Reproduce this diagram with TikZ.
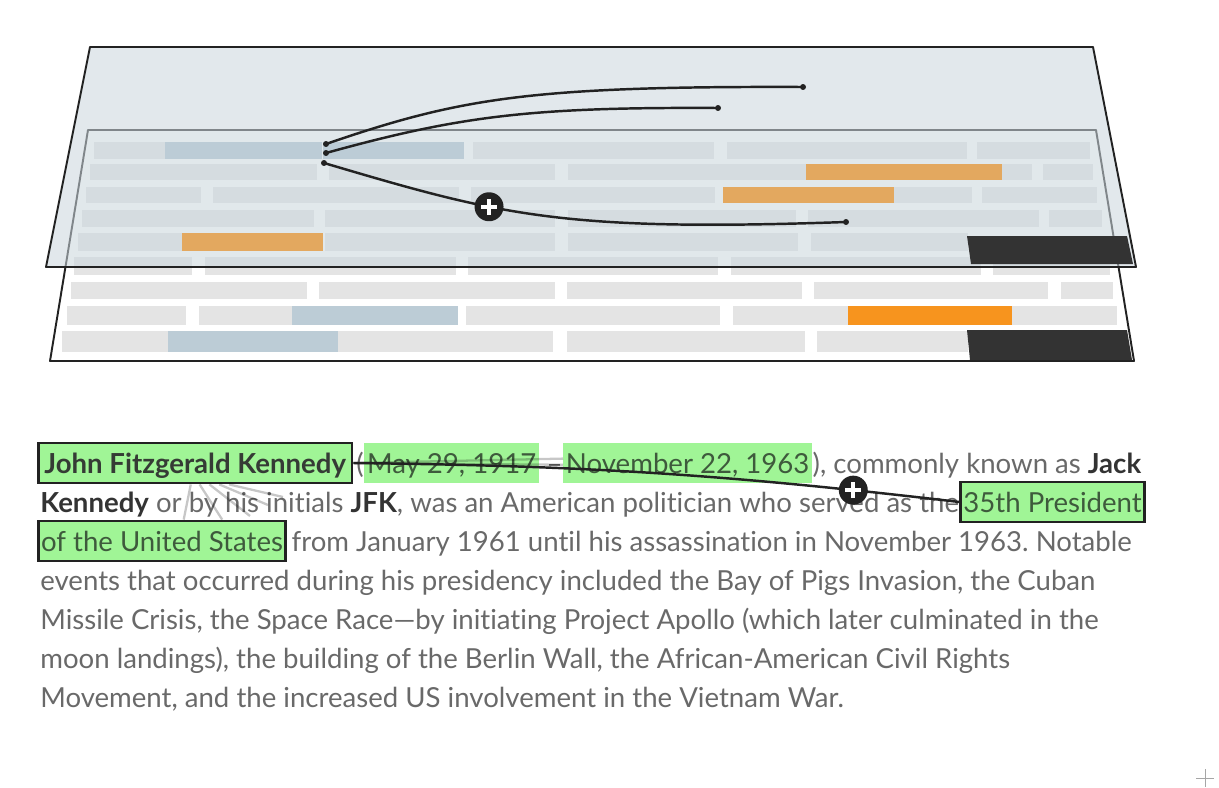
\documentclass[tikz,border=0pt]{standalone}
\usepackage{fontspec}
\setmainfont[Ligatures=NoCommon]{Lato}
\usetikzlibrary{calc}
\definecolor{planeblue}{RGB}{203,214,221}
\definecolor{bargray}{RGB}{228,228,228}
\definecolor{barblue}{RGB}{188,204,214}
\definecolor{barorange}{RGB}{247,148,30}
\definecolor{dimorange}{RGB}{227,168,95}
\definecolor{bardark}{RGB}{51,51,51}
\definecolor{linedark}{RGB}{34,34,34}
\definecolor{hlgreen}{RGB}{160,245,150}
\definecolor{hltext}{RGB}{62,90,60}
\definecolor{txtgray}{RGB}{105,105,105}
\definecolor{bolddark}{RGB}{51,51,51}
\newcommand\bodyfont{\fontsize{15.7pt}{19pt}\selectfont\frenchspacing}
\newcommand\barrow[3]{\foreach \xa/\xb in {#3}{\fill[bargray] (\xa,#1) rectangle (\xb,#2);}}
\newcommand\bld[1]{\textbf{\textcolor{bolddark}{#1}}}

\begin{document}
\begin{tikzpicture}[x=0.02cm,y=-0.02cm]
\tikzset{
  PlaneStyle/.style={draw=linedark, line width=1.1pt, line join=round},
  LinkStyle/.style={draw=linedark, line width=1.4pt},
  PlusStyle/.style={circle, fill=linedark, minimum size=0.58cm, inner sep=0,
    path picture={\draw[white, line width=2.3pt]
      ([xshift=-0.16cm]path picture bounding box.center) -- ([xshift=0.16cm]path picture bounding box.center)
      ([yshift=-0.16cm]path picture bounding box.center) -- ([yshift=0.16cm]path picture bounding box.center);}},
  TextStyle/.style={inner sep=0, anchor=base west, text=txtgray, font=\bodyfont},
  MarkStyle/.style={TextStyle, fill=hlgreen, text=hltext, text height=0.56cm, text depth=0.16cm, inner ysep=0.04cm, inner xsep=1.5pt},
  BoxStyle/.style={MarkStyle, draw=linedark, line width=1.6pt},
  GhostStyle/.style={draw=black, opacity=0.22, line width=1.3pt},
}
\useasboundingbox (0,0) rectangle (1219,787);

\filldraw[PlaneStyle, fill=white] (88,130) -- (1096,130) -- (1134,361) -- (50,361) -- cycle;
\barrow{142}{159}{94/165, 165/322, 323/464, 473/714, 727/967, 977/1090}
\barrow{164}{180}{90/317, 329/555, 568/1032, 1043/1093}
\barrow{187}{203}{86/201, 213/459, 471/715, 723/972, 982/1097}
\barrow{210}{227}{82/314, 325/555, 568/796, 808/1039, 1049/1102}
\barrow{233}{251}{78/323, 325/555, 568/798, 811/968}
\barrow{257}{275}{74/192, 205/456, 468/718, 731/981, 993/1110}
\barrow{282}{299}{71/307, 319/555, 567/802, 814/1048, 1061/1113}
\barrow{306}{325}{67/186, 199/458, 466/720, 733/1117}
\barrow{331}{352}{62/553, 567/805, 817/968}
\fill[barblue] (292,306) rectangle (458,325);
\fill[barorange] (848,306) rectangle (1012,325);
\fill[barblue] (168,331) rectangle (338,352);
\fill[bardark] (967,330) -- (1127,330) -- (1132,360) -- (970,360) -- cycle;

\filldraw[PlaneStyle, fill=planeblue, fill opacity=0.56] (90,47) -- (1093,47) -- (1136,267) -- (46,267) -- cycle;
\fill[barblue] (165,142) rectangle (322,159);
\fill[barblue] (323,142) rectangle (464,159);
\fill[dimorange] (806,164) rectangle (1002,180);
\fill[dimorange] (723,187) rectangle (894,203);
\fill[dimorange] (182,233) rectangle (323,251);
\fill[bardark] (967,236) -- (1127,236) -- (1133,264) -- (971,264) -- cycle;

\coordinate (s1) at (326,144);
\coordinate (s2) at (326,153);
\coordinate (s3) at (324,163);
\coordinate (e1) at (803,87);
\coordinate (e2) at (718,108);
\coordinate (e3) at (846,222);
\draw[LinkStyle] (s1) .. controls (460,98) and (530,86) .. (e1);
\draw[LinkStyle] (s2) .. controls (460,116) and (530,107) .. (e2);
\draw[LinkStyle] (s3) .. controls (500,215) and (560,232) .. node[PlusStyle, pos=0.37] (plusa) {} (e3);
\foreach \p in {s1,s2,s3,e1,e2,e3}
  \fill[linedark] (\p) circle[radius=1.7pt];

\node[BoxStyle, inner xsep=3.4pt] (jfk) at (37,473) {\bfseries\color{bolddark!80!hltext}John Fitzgerald Kennedy};
\node[TextStyle] (open) at (jfk.base east) {\kern1.5pt(};
\node[MarkStyle] (born) at (open.base east) {May 29, 1917};
\node[TextStyle] (dash) at (born.base east) {\ –\ };
\node[MarkStyle] (died) at (dash.base east) {November 22, 1963};
\node[TextStyle] (rest1) at (died.base east) {), commonly known as \bld{Jack}};
\node[TextStyle] (rest2) at (40,512) {\bld{Kennedy} or by his initials \bld{JFK}, was an American politician who served as the};
\node[BoxStyle] (pres) at (rest2.base east) {35th President};
\node[BoxStyle] (states) at (37,551) {of the United States};
\node[TextStyle] (rest3) at (states.base east) {\kern2.5pt from January 1961 until his assassination in November 1963. Notable};
\node[TextStyle] (line4) at (40,590) {events that occurred during his presidency included the Bay of Pigs Invasion, the Cuban};
\node[TextStyle] (line5) at (40,629) {Missile Crisis, the Space Race—by initiating Project Apollo (which later culminated in the};
\node[TextStyle] (line6) at (40,668) {moon landings), the building of the Berlin Wall, the African-American Civil Rights};
\node[TextStyle] (line7) at (40,707) {Movement, and the increased US involvement in the Vietnam War.};

\draw[GhostStyle] (jfk.east) -- ([yshift=2.5pt]died.west);
\draw[GhostStyle] (jfk.east) -- ([yshift=-1pt]died.west);
\coordinate (g1) at (250,516);
\coordinate (g2) at (268,505);
\coordinate (g3) at (283,497);
\draw[GhostStyle] ($(jfk.south west)!0.486!(jfk.south east)$) -- ($(states.north west)!0.587!(states.north east)$);
\draw[GhostStyle] ($(jfk.south west)!0.514!(jfk.south east)$) -- ($(states.north west)!0.741!(states.north east)$);
\draw[GhostStyle] ($(jfk.south west)!0.545!(jfk.south east)$) -- (g1);
\draw[GhostStyle] ($(jfk.south west)!0.576!(jfk.south east)$) -- (g2);
\draw[GhostStyle] ($(jfk.south west)!0.607!(jfk.south east)$) -- (g3);
\draw[LinkStyle] (jfk.east) to[bend left=3] node[PlusStyle, pos=0.84] (plusb) {} (pres.west);

\draw[black!35, line width=0.4pt] (1196,778) -- (1214,778) (1205,769) -- (1205,787);
\end{tikzpicture}
\end{document}
